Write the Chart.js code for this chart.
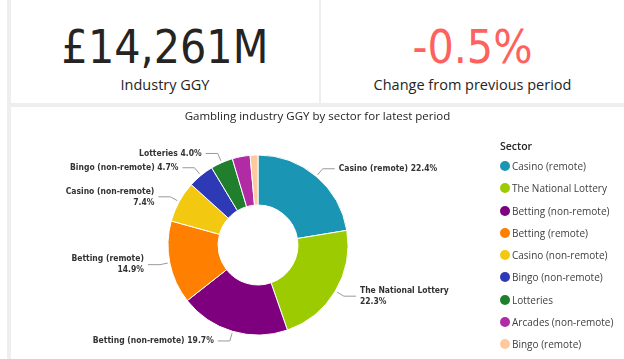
<!DOCTYPE html>
<html>
<head>
<meta charset="utf-8">
<script src="https://cdn.jsdelivr.net/npm/chart.js@4.4.1/dist/chart.umd.min.js"></script>
<style>
  body { margin: 0; width: 624px; height: 359px; background: #fff; overflow: hidden; position: relative; font-family: "Open Sans", sans-serif; color: #252423; }
  #bg { position: absolute; left: 7px; top: 0; width: 617px; height: 359px; background: #eeeeee; }
  .card { position: absolute; background: #fff; }
  .kpi { text-align: center; }
  .kpi .num { position: absolute; left: 0; right: 0; top: 17px; font-family: "DejaVu Sans Condensed", sans-serif; font-size: 46px; line-height: 60px; }
  .kpi .lbl { position: absolute; left: 0; right: 0; top: 75px; font-size: 14.5px; line-height: 20px; }
  #title { position: absolute; left: 0; right: 0; top: 0; text-align: center; font-size: 11.5px; line-height: 17px; color: #252423; }
  #legend { position: absolute; left: 489px; top: 30px; font-size: 10px; color: #404040; }
  #legend .head { font-weight: 600; font-size: 10.5px; color: #252423; height: 18px; line-height: 18px; }
  #legend .item { height: 22.3px; line-height: 22.3px; white-space: nowrap; }
  #legend .dot { display: inline-block; width: 10px; height: 10px; border-radius: 50%; vertical-align: -1px; margin-right: 2px; }
  #chartBox { position: absolute; left: 0; top: 0; width: 613px; height: 252px; }
</style>
</head>
<body>
<div id="bg"></div>
<div class="card kpi" style="left:11px; top:0; width:308px; height:103px;">
  <div class="num" id="ggy"></div>
  <div class="lbl">Industry GGY</div>
</div>
<div class="card kpi" style="left:321px; top:0; width:303px; height:103px;">
  <div class="num" id="chg" style="color:#fd625e;"></div>
  <div class="lbl">Change from previous period</div>
</div>
<div class="card" style="left:11px; top:107px; width:613px; height:252px;">
  <div id="chartBox"><canvas id="chart"></canvas></div>
  <div id="title">Gambling industry GGY by sector for latest period</div>
  <div id="legend"></div>
</div>
<script>
// Datos del gráfico
const sectors = ['Casino (remote)', 'The National Lottery', 'Betting (non-remote)', 'Betting (remote)',
  'Casino (non-remote)', 'Bingo (non-remote)', 'Lotteries', 'Arcades (non-remote)', 'Bingo (remote)'];
const shares = [22.4, 22.3, 19.7, 14.9, 7.4, 4.7, 4.0, 3.2, 1.4];
const colours = ['#1a96b4', '#9bcb00', '#7f007f', '#ff7f00', '#f2c811', '#2e3ab5', '#1f7f2c', '#b12ba5', '#ffc99e'];
const industryGGY = '£14,261M';
const changePrev = '-0.5%';

document.getElementById('ggy').innerText = industryGGY;
document.getElementById('chg').innerText = changePrev;

// Leyenda
const legend = document.getElementById('legend');
legend.innerHTML = '<div class="head">Sector</div>';
sectors.forEach((s, i) => {
  const row = document.createElement('div');
  row.className = 'item';
  row.innerHTML = '<span class="dot" style="background:' + colours[i] + '"></span>' + s;
  legend.appendChild(row);
});

// Etiquetas con líneas guía
const sliceLabels = {
  id: 'sliceLabels',
  afterDatasetsDraw(chart, args, opts) {
    const ctx = chart.ctx;
    const meta = chart.getDatasetMeta(0);
    ctx.save();
    ctx.font = opts.font;
    ctx.fillStyle = opts.color;
    ctx.strokeStyle = opts.lineColor;
    ctx.lineWidth = 1;
    ctx.textBaseline = 'middle';
    meta.data.forEach((arc, i) => {
      const v = chart.data.datasets[0].data[i];
      if (v < opts.minShare) return;
      const mid = (arc.startAngle + arc.endAngle) / 2;
      const r = arc.outerRadius;
      const right = Math.cos(mid) >= 0;
      const x0 = arc.x + Math.cos(mid) * (r + 2);
      const y0 = arc.y + Math.sin(mid) * (r + 2);
      const x1 = arc.x + Math.cos(mid) * (r + opts.elbow);
      const y1 = arc.y + Math.sin(mid) * (r + opts.elbow);
      const x2 = x1 + (right ? opts.tail : -opts.tail);
      ctx.beginPath();
      ctx.moveTo(x0, y0);
      ctx.lineTo(x1, y1);
      ctx.lineTo(x2, y1);
      ctx.stroke();
      const pct = v.toFixed(1) + '%';
      const name = chart.data.labels[i];
      const lines = opts.wrap.includes(name) ? [name, pct] : [name + ' ' + pct];
      ctx.textAlign = right ? 'left' : 'right';
      const tx = x2 + (right ? 4 : -4);
      const lh = 11;
      const top = y1 - (lines.length - 1) * lh / 2;
      lines.forEach((t, k) => ctx.fillText(t, tx, top + k * lh));
    });
    ctx.restore();
  }
};

const ctx = document.getElementById('chart').getContext('2d');
const myChart = new Chart(ctx, {
  type: 'doughnut',
  data: {
    labels: sectors,
    datasets: [{
      data: shares,
      backgroundColor: colours,
      borderColor: '#ffffff',
      borderWidth: 1,
      radius: 90,
      cutout: '44.4%'
    }]
  },
  options: {
    responsive: true,
    maintainAspectRatio: false,
    animation: false,
    layout: { padding: { top: 24, bottom: 0, left: 0, right: 119 } },
    plugins: {
      legend: { display: false },
      tooltip: { enabled: false },
      sliceLabels: {
        font: 'bold 8.5px "DejaVu Sans Condensed", sans-serif',
        color: '#333333',
        lineColor: '#9a9a9a',
        elbow: 10,
        tail: 12,
        minShare: 3.5,
        wrap: ['The National Lottery', 'Betting (remote)', 'Casino (non-remote)']
      }
    }
  },
  plugins: [sliceLabels]
});
</script>
</body>
</html>
